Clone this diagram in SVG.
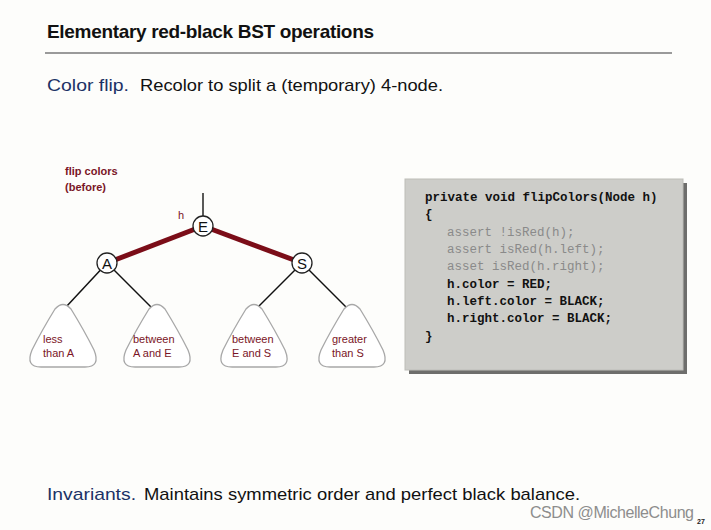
<svg xmlns="http://www.w3.org/2000/svg" width="711" height="530" viewBox="0 0 711 530">
<defs>
<style>
.t{font-family:"Liberation Sans",Arial,sans-serif}
.title{font-size:19px;font-weight:bold;fill:#111}
.body{font-size:17px;fill:#111}
.blue{fill:#1c3266}
.red{fill:#7a1526;font-size:11px}
.node circle{fill:#fff;stroke:#222;stroke-width:1.3}
.node text{font-family:"Liberation Sans",Arial,sans-serif;font-size:15px;fill:#111;text-anchor:middle}
.leaf use{fill:#fff;stroke:#a8a8a8;stroke-width:1.3}
.code{font-family:"Liberation Mono","Courier New",monospace;font-size:12.5px;font-weight:bold;fill:#111}
.gray{fill:#8a8a8a;font-weight:normal}
</style>
<path id="tri" d="M-8,309 Q0,300 8,309 C16,322 24,336 31,350 Q38,367 22,367 L-22,367 Q-38,367 -31,350 C-24,336 -16,322 -8,309 Z"/>
</defs>
<rect width="711" height="530" fill="#fdfdfb"/>
<text class="t title" x="47" y="38" textLength="327">Elementary red-black BST operations</text>
<line x1="45" y1="53" x2="672" y2="53" stroke="#9a9a9a" stroke-width="2"/>
<text class="t body" x="47" y="91"><tspan class="blue" textLength="82" lengthAdjust="spacingAndGlyphs">Color flip.</tspan><tspan x="140" textLength="303" lengthAdjust="spacingAndGlyphs">Recolor to split a (temporary) 4-node.</tspan></text>
<text class="t red" x="65" y="175" font-weight="bold">flip colors</text>
<text class="t red" x="65" y="191" font-weight="bold">(before)</text>
<text class="t red" x="178" y="219">h</text>
<g id="connectors">
<line x1="203" y1="193" x2="203" y2="216" stroke="#222" stroke-width="1.5"/>
<line x1="107" y1="263" x2="203" y2="226" stroke="#7b0d18" stroke-width="5"/>
<line x1="203" y1="226" x2="302" y2="263" stroke="#7b0d18" stroke-width="5"/>
<line x1="107" y1="263" x2="66" y2="307" stroke="#111" stroke-width="1.5"/>
<line x1="107" y1="263" x2="151" y2="307" stroke="#111" stroke-width="1.5"/>
<line x1="302" y1="263" x2="258" y2="307" stroke="#111" stroke-width="1.5"/>
<line x1="302" y1="263" x2="346" y2="307" stroke="#111" stroke-width="1.5"/>
</g>
<g id="nodeE" class="node"><circle cx="203" cy="226" r="10"/><text x="203" y="231.5">E</text></g>
<g id="nodeA" class="node"><circle cx="107" cy="263" r="10"/><text x="107" y="268.5">A</text></g>
<g id="nodeS" class="node"><circle cx="302" cy="263" r="10"/><text x="302" y="268.5">S</text></g>
<g id="leaf1" class="leaf"><use href="#tri" x="63"/><text class="t red" x="43" y="343">less</text><text class="t red" x="43" y="357">than A</text></g>
<g id="leaf2" class="leaf"><use href="#tri" x="157"/><text class="t red" x="133" y="343">between</text><text class="t red" x="133" y="357">A and E</text></g>
<g id="leaf3" class="leaf"><use href="#tri" x="254"/><text class="t red" x="232" y="343">between</text><text class="t red" x="232" y="357">E and S</text></g>
<g id="leaf4" class="leaf"><use href="#tri" x="352"/><text class="t red" x="332" y="343">greater</text><text class="t red" x="332" y="357">than S</text></g>
<g id="code">
<rect x="409" y="183" width="278" height="191" fill="#6e6e6c"/>
<rect x="405" y="179" width="278" height="191" fill="#cdcdc9" stroke="#bdbdb8" stroke-width="1"/>
<text class="code" x="425" y="201">private void flipColors(Node h)</text>
<text class="code" x="425" y="218">{</text>
<text class="code gray" x="447" y="236">assert !isRed(h);</text>
<text class="code gray" x="447" y="253">assert isRed(h.left);</text>
<text class="code gray" x="447" y="270">asset isRed(h.right);</text>
<text class="code" x="447" y="288">h.color = RED;</text>
<text class="code" x="447" y="305">h.left.color = BLACK;</text>
<text class="code" x="447" y="322">h.right.color = BLACK;</text>
<text class="code" x="425" y="340">}</text>
</g>
<text class="t body" x="47" y="500"><tspan class="blue" textLength="89" lengthAdjust="spacingAndGlyphs">Invariants.</tspan><tspan x="144" textLength="436" lengthAdjust="spacingAndGlyphs">Maintains symmetric order and perfect black balance.</tspan></text>
<text class="t" x="530" y="518" font-size="16" fill="#8d8d8d" textLength="164">CSDN @MichelleChung</text>
<text class="t" x="697" y="524" font-size="7" font-weight="bold" fill="#222">27</text>
</svg>
